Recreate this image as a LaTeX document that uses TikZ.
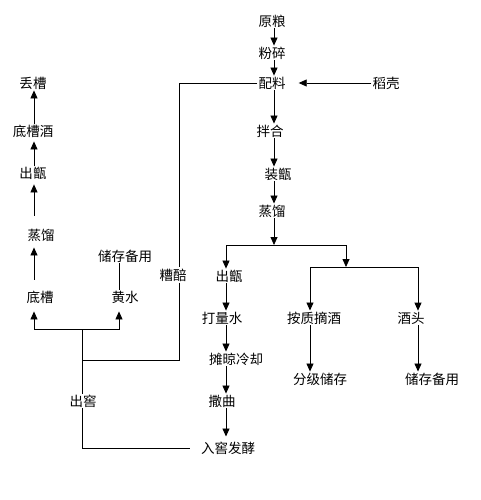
\documentclass[tikz,border=0pt]{standalone}
\usepackage{fontspec}
\newfontfamily\cjk{Noto Sans CJK SC}
\usetikzlibrary{arrows.meta}
\begin{document}
\begin{tikzpicture}[x=1pt,y=-1pt,
  lbl/.style={font=\cjk\fontsize{13.5}{14}\selectfont, inner sep=1pt},
  ln/.style={line width=0.8pt},
  arr/.style={ln,-{Triangle[length=8pt,width=7pt]}}]
\useasboundingbox (0,0) rectangle (480,500);
% nodes
\node[lbl] (yuanliang) at (272,21) {原粮};
\node[lbl] (fensui) at (272,53) {粉碎};
\node[lbl] (peiliao) at (272,83) {配料};
\node[lbl] (daoke) at (386,83) {稻壳};
\node[lbl] (banhe) at (270,131) {拌合};
\node[lbl] (zhuangzeng) at (278,174) {装甑};
\node[lbl] (zhengliu) at (272,211) {蒸馏};
\node[lbl] (chuzengr) at (229,276) {出甑};
\node[lbl] (dalshui) at (222,318) {打量水};
\node[lbl] (tanliang) at (236,359) {摊晾冷却};
\node[lbl] (saqu) at (222,401) {撒曲};
\node[lbl] (rujiao) at (228,448) {入窖发酵};
\node[lbl] (anzhi) at (314,318) {按质摘酒};
\node[lbl] (jiutou) at (411,318) {酒头};
\node[lbl] (fenji) at (320,379) {分级储存};
\node[lbl] (chucunr) at (432,379) {储存备用};
\node[lbl] (diucao) at (33,83) {丢槽};
\node[lbl] (dicaojiu) at (33,131) {底槽酒};
\node[lbl] (chuzengl) at (33,173) {出甑};
\node[lbl] (zhengliul) at (41,235) {蒸馏};
\node[lbl] (dicao) at (40,297) {底槽};
\node[lbl] (huangshui) at (125,297) {黄水};
\node[lbl] (chucunl) at (125,256) {储存备用};
\node[lbl] (zaopei) at (173,275) {糟醅};
\node[lbl] (chujiao) at (83,401) {出窖};
% helper coordinates
\coordinate (mx) at (274,0);
\coordinate (lx) at (34,0);
\coordinate (hx) at (119,0);
\coordinate (zx) at (179,0);
\coordinate (cx) at (226,0);
\coordinate (j2) at (82,329);
\coordinate (j3) at (82,360);
\coordinate (b1) at (274,245);
\coordinate (bl) at (226,245);
\coordinate (br) at (346,245);
\coordinate (b2) at (346,267);
\coordinate (bl2) at (310,267);
\coordinate (br2) at (418,267);
% main column
\draw[arr] (yuanliang.south -| mx) -- (fensui.north -| mx);
\draw[arr] (fensui.south -| mx) -- (peiliao.north -| mx);
\draw[arr] (peiliao.south -| mx) -- (banhe.north -| mx);
\draw[arr] (banhe.south -| mx) -- (zhuangzeng.north -| mx);
\draw[arr] (zhuangzeng.south -| mx) -- (zhengliu.north -| mx);
\draw[arr] (zhengliu.south -| mx) -- (b1);
\draw[arr,shorten >=12pt] (daoke.west) -- (peiliao.east);
% zaopei loop
\draw[ln] (peiliao.west) -| (zaopei.north -| zx);
\draw[ln] (zaopei.south -| zx) |- (j3);
% left column
\draw[arr] (dicaojiu.north -| lx) -- (diucao.south -| lx);
\draw[arr] (chuzengl.north -| lx) -- ([yshift=-3pt]dicaojiu.south -| lx);
\draw[arr,shorten <=12pt,shorten >=4pt] (zhengliul.north -| lx) -- (chuzengl.south -| lx);
\draw[arr,shorten <=10pt,shorten >=5pt] (dicao.north -| lx) -- (zhengliul.south -| lx);
\draw[arr,shorten >=7pt] (j2) -| (dicao.south -| lx);
\draw[arr,shorten >=7pt] (j2) -| (huangshui.south -| hx);
\draw[ln] (chucunl.south -| hx) -- (huangshui.north -| hx);
\draw[ln] (chujiao.north -| j2) -- (j2);
\draw[ln] (chujiao.south -| j2) |- ([xshift=-10pt]rujiao.west);
% right branches
\draw[ln] (bl) -- (br);
\draw[arr] (bl) -- (chuzengr.north -| bl);
\draw[arr] (br) -- (b2);
\draw[ln] (bl2) -- (br2);
\draw[arr] (bl2) -- (anzhi.north -| bl2);
\draw[arr] (br2) -- (jiutou.north -| br2);
\draw[arr] (chuzengr.south -| cx) -- (dalshui.north -| cx);
\draw[arr] (dalshui.south -| cx) -- (tanliang.north -| cx);
\draw[arr] (tanliang.south -| cx) -- (saqu.north -| cx);
\draw[arr,shorten >=4pt] (saqu.south -| cx) -- (rujiao.north -| cx);
\draw[arr] (anzhi.south -| bl2) -- (fenji.north -| bl2);
\draw[arr] (jiutou.south -| br2) -- (chucunr.north -| br2);
\end{tikzpicture}
\end{document}
